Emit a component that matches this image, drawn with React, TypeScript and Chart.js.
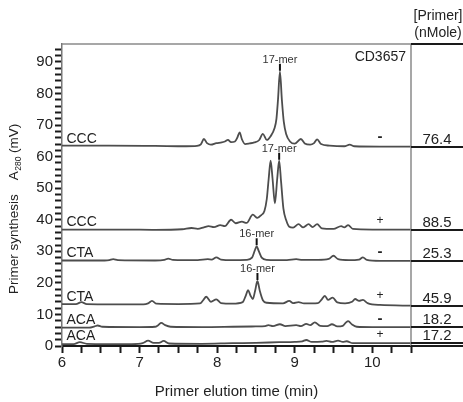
import React, { useEffect, useRef } from 'react';
import { Chart, registerables } from 'chart.js';

Chart.register(...registerables);

const FONT = '"Liberation Sans", Arial, Helvetica, sans-serif';

// ---- data ----
const traceLabels = ['CCC', 'CCC', 'CTA', 'CTA', 'ACA', 'ACA'];
const conditionMarks = ['-', '+', '-', '+', '-', '+'];
const primerAmounts = ['76.4', '88.5', '25.3', '45.9', '18.2', '17.2'];
const baselineLevels = [63.3, 36.9, 27.0, 13.1, 5.9, 0.8];
const panelLineLevels = [95.7, 63.2, 36.9, 27.0, 12.8, 6.1, 1.0, 0];
const panelHeader = ['[Primer]', '(nMole)'];
const sampleName = 'CD3657';
const markTime = 10.1;

const peakNames = ['17-mer', '17-mer', '16-mer', '16-mer'];
const peakTimes = [8.81, 8.8, 8.51, 8.52];
const peakHeights = [86.9, 58.7, 31.6, 20.6];

const xMin = 6;
const xMax = 10.5;
const yMin = 0;
const yMax = 95.7;

const cccMinus: [number, number][] = [
  [6.0, 63.5], [6.6, 63.5], [7.2, 63.4], [7.6, 63.3], [7.74, 63.4], [7.79, 63.9], [7.83, 65.6],
  [7.87, 64.3], [7.92, 63.8], [7.99, 64.3], [8.06, 64.5], [8.1, 64.8], [8.14, 65.3], [8.18, 64.6],
  [8.23, 64.8], [8.26, 66.0], [8.29, 67.7], [8.32, 65.5], [8.36, 64.0], [8.42, 64.2], [8.48, 64.5],
  [8.54, 65.2], [8.59, 67.2], [8.64, 65.3], [8.69, 66.5], [8.74, 69.0], [8.765, 72.0], [8.785, 78.0],
  [8.81, 86.9], [8.835, 78.0], [8.86, 71.0], [8.89, 67.2], [8.94, 64.8], [9.0, 64.1], [9.08, 65.6],
  [9.13, 64.2], [9.2, 63.8], [9.25, 64.3], [9.29, 65.5], [9.34, 64.0], [9.45, 63.5], [9.64, 63.3],
  [9.71, 63.8], [9.77, 63.3], [10.1, 63.2], [10.5, 63.2],
];

const cccPlus: [number, number][] = [
  [6.0, 36.9], [6.8, 36.9], [7.2, 36.8], [7.55, 37.0], [7.67, 37.4], [7.75, 37.1], [7.83, 37.6],
  [7.89, 38.0], [7.96, 37.7], [8.04, 38.3], [8.1, 38.0], [8.18, 40.0], [8.24, 38.9], [8.32, 39.4],
  [8.38, 39.0], [8.46, 41.6], [8.52, 40.6], [8.57, 41.5], [8.61, 42.8], [8.64, 46.5], [8.665, 53.0],
  [8.69, 58.7], [8.715, 53.0], [8.745, 45.2], [8.775, 53.0], [8.8, 58.7], [8.825, 52.0],
  [8.855, 43.5], [8.89, 39.9], [8.93, 37.8], [8.98, 37.5], [9.05, 38.6], [9.11, 37.6], [9.18, 38.6],
  [9.23, 37.7], [9.29, 38.6], [9.35, 37.3], [9.5, 37.1], [9.6, 38.0], [9.64, 37.6], [9.69, 38.3],
  [9.75, 37.1], [10.0, 36.9], [10.5, 36.9],
];

const ctaMinus: [number, number][] = [
  [6.0, 27.1], [6.55, 27.1], [6.61, 27.2], [6.66, 27.5], [6.72, 27.2], [7.2, 27.1], [7.32, 27.3],
  [7.37, 27.7], [7.43, 27.3], [7.75, 27.2], [7.88, 27.5], [7.93, 27.4], [7.99, 28.1], [8.05, 27.4],
  [8.2, 27.2], [8.38, 27.3], [8.45, 28.0], [8.485, 30.2], [8.51, 31.6], [8.535, 30.2], [8.575, 28.0],
  [8.64, 27.3], [8.9, 27.2], [9.02, 27.5], [9.1, 27.3], [9.3, 27.3], [9.44, 27.6], [9.5, 28.6],
  [9.56, 27.5], [9.7, 27.2], [9.83, 27.4], [9.88, 28.1], [9.93, 27.3], [10.1, 27.0], [10.5, 27.0],
];

const ctaPlus: [number, number][] = [
  [6.0, 13.3], [6.18, 13.3], [6.25, 13.9], [6.32, 13.3], [7.05, 13.2], [7.11, 13.5], [7.16, 14.3],
  [7.22, 13.4], [7.5, 13.3], [7.78, 13.5], [7.82, 14.5], [7.86, 15.6], [7.92, 14.0], [7.99, 14.8],
  [8.05, 13.6], [8.2, 13.4], [8.33, 13.9], [8.37, 16.0], [8.4, 17.7], [8.43, 16.0], [8.46, 14.9],
  [8.49, 17.5], [8.52, 20.6], [8.55, 17.5], [8.59, 14.5], [8.64, 13.7], [8.85, 13.5], [8.93, 14.3],
  [8.98, 13.6], [9.05, 13.9], [9.12, 13.5], [9.3, 13.6], [9.35, 14.8], [9.39, 15.9], [9.43, 14.6],
  [9.49, 15.3], [9.55, 13.8], [9.65, 13.5], [9.74, 14.0], [9.78, 14.9], [9.83, 14.3], [9.88, 14.6],
  [9.94, 13.6], [10.1, 13.0], [10.5, 12.8],
];

const acaMinus: [number, number][] = [
  [6.0, 5.8], [6.35, 5.8], [6.42, 6.2], [6.46, 6.5], [6.52, 6.1], [7.0, 6.0], [7.2, 6.1],
  [7.24, 6.6], [7.28, 7.3], [7.33, 6.6], [7.4, 6.1], [7.8, 6.0], [8.2, 6.1], [8.5, 6.2],
  [8.62, 6.3], [8.66, 6.6], [8.72, 6.3], [8.81, 6.9], [8.88, 6.3], [9.02, 6.6], [9.08, 6.3],
  [9.15, 7.0], [9.2, 6.6], [9.26, 7.5], [9.33, 6.4], [9.42, 6.3], [9.48, 6.9], [9.55, 6.2],
  [9.62, 6.4], [9.66, 7.4], [9.69, 7.9], [9.74, 6.8], [9.8, 6.1], [10.0, 6.0], [10.5, 6.0],
];

const acaPlus: [number, number][] = [
  [6.0, 0.6], [6.15, 0.6], [6.23, 1.2], [6.32, 0.7], [6.9, 0.6], [7.04, 0.9], [7.11, 1.7],
  [7.18, 1.0], [7.25, 1.0], [7.31, 1.6], [7.38, 0.8], [7.8, 0.7], [8.2, 0.9], [8.5, 1.0],
  [8.8, 1.2], [9.0, 1.3], [9.1, 1.5], [9.15, 1.9], [9.22, 1.3], [9.35, 1.4], [9.41, 1.6],
  [9.48, 1.3], [9.56, 1.7], [9.62, 1.3], [9.67, 1.5], [9.75, 0.9], [10.0, 0.9], [10.5, 0.9],
];

const traces = [cccMinus, cccPlus, ctaMinus, ctaPlus, acaMinus, acaPlus];

// ---- drawing helpers ----
const annotationPlugin = {
  id: 'annotations',
  afterDatasetsDraw(chart: any) {
    const { ctx, chartArea, scales } = chart;
    const xs = scales.x;
    const ys = scales.y;
    const W = chart.width;
    ctx.save();

    // plot frame: top and right
    ctx.strokeStyle = '#8a8a8a';
    ctx.lineWidth = 1.5;
    ctx.beginPath();
    ctx.moveTo(chartArea.left, chartArea.top);
    ctx.lineTo(chartArea.right, chartArea.top);
    ctx.moveTo(chartArea.right, chartArea.top);
    ctx.lineTo(chartArea.right, chartArea.bottom);
    ctx.stroke();

    // right panel lines
    ctx.strokeStyle = '#1a1a1a';
    ctx.lineWidth = 2;
    panelLineLevels.forEach((lv) => {
      const py = Math.round(ys.getPixelForValue(lv)) + 0.0;
      ctx.beginPath();
      ctx.moveTo(chartArea.right, py);
      ctx.lineTo(W, py);
      ctx.stroke();
    });

    const panelX = (chartArea.right + W) / 2;
    ctx.fillStyle = '#222';
    ctx.textAlign = 'center';
    ctx.textBaseline = 'middle';
    ctx.font = `14px ${FONT}`;
    ctx.fillText(panelHeader[0], panelX + 1, 16);
    ctx.fillText(panelHeader[1], panelX + 1, 33);

    // primer amounts
    ctx.font = `15px ${FONT}`;
    ctx.textBaseline = 'alphabetic';
    primerAmounts.forEach((v, i) => {
      const py = ys.getPixelForValue(panelLineLevels[i + 1]);
      ctx.fillText(v, panelX, py - 3);
    });

    // trace labels
    ctx.textAlign = 'left';
    ctx.font = `14px ${FONT}`;
    traceLabels.forEach((t, i) => {
      const py = ys.getPixelForValue(baselineLevels[i]);
      ctx.fillText(t, chartArea.left + 4.5, py - 3.5);
    });

    // condition marks
    ctx.textAlign = 'center';
    ctx.textBaseline = 'middle';
    conditionMarks.forEach((m, i) => {
      const py = ys.getPixelForValue(baselineLevels[i]) - 9;
      const px = xs.getPixelForValue(markTime);
      ctx.font = m === '-' ? `bold 15px ${FONT}` : `12px ${FONT}`;
      ctx.fillText(m, px, py);
    });

    // sample name
    ctx.textAlign = 'right';
    ctx.font = `14px ${FONT}`;
    ctx.fillText(sampleName, chartArea.right - 5, 57);

    // peak labels
    peakNames.forEach((name, i) => {
      const px = xs.getPixelForValue(peakTimes[i]);
      const py = ys.getPixelForValue(peakHeights[i]);
      const tickBottom = py - 1;
      const tickTop = py - 8;
      ctx.strokeStyle = '#111';
      ctx.lineWidth = 2;
      ctx.beginPath();
      ctx.moveTo(px, tickBottom);
      ctx.lineTo(px, tickTop);
      ctx.stroke();
      ctx.font = `11px ${FONT}`;
      ctx.fillStyle = '#333';
      ctx.textAlign = 'center';
      ctx.textBaseline = 'alphabetic';
      ctx.fillText(name, px, tickTop - 1);
    });

    ctx.restore();
  },
  afterDraw(chart: any) {
    const { ctx } = chart;
    ctx.save();
    ctx.translate(18, 294);
    ctx.rotate(-Math.PI / 2);
    ctx.fillStyle = '#222';
    ctx.textAlign = 'left';
    ctx.textBaseline = 'alphabetic';
    ctx.font = `13.5px ${FONT}`;
    let x = 0;
    const main1 = 'Primer synthesis';
    ctx.fillText(main1, x, 0);
    x += ctx.measureText(main1).width + 14;
    ctx.fillText('A', x, 0);
    x += ctx.measureText('A').width + 0.5;
    ctx.font = `8.5px ${FONT}`;
    ctx.fillText('280', x, 3);
    x += ctx.measureText('280').width + 3.5;
    ctx.font = `13.5px ${FONT}`;
    ctx.fillText('(mV)', x, 0);
    ctx.restore();
  },
};

export default function App() {
  const canvasRef = useRef<HTMLCanvasElement | null>(null);

  useEffect(() => {
    document.body.style.margin = '0';
    const canvas = canvasRef.current;
    if (!canvas) return;
    Chart.defaults.font.family = FONT;
    Chart.defaults.color = '#222';

    const datasets = traces.map((tr, i) => ({
      label: `${traceLabels[i]} ${conditionMarks[i]}`,
      data: tr.map(([x, y]) => ({ x, y })),
      borderColor: '#4d4d4d',
      borderWidth: 1.8,
      pointRadius: 0,
      fill: false,
      cubicInterpolationMode: 'monotone' as const,
    }));

    const chart = new Chart(canvas, {
      type: 'line',
      data: { datasets },
      options: {
        animation: false,
        responsive: false,
        maintainAspectRatio: false,
        layout: { padding: { top: 44, right: 52, left: 0, bottom: 0 } },
        plugins: {
          legend: { display: false },
          tooltip: { enabled: false },
          title: { display: false },
        },
        scales: {
          x: {
            type: 'linear',
            min: xMin,
            max: xMax,
            afterFit: (axis: any) => {
              axis.height = 56;
            },
            ticks: {
              stepSize: 0.25,
              autoSkip: false,
              maxRotation: 0,
              padding: 1,
              font: { size: 15, family: FONT },
              color: '#222',
              callback: (v: any) => (Number.isInteger(Number(v)) ? String(v) : ''),
            },
            grid: {
              drawOnChartArea: false,
              drawTicks: true,
              tickLength: 7,
              tickWidth: 2,
              tickColor: '#1a1a1a',
              color: '#1a1a1a',
            },
            border: { display: true, color: '#1a1a1a', width: 2 },
            title: {
              display: true,
              text: 'Primer elution time (min)',
              font: { size: 15, family: FONT },
              color: '#222',
              padding: { top: 0, bottom: 1 },
            },
          },
          y: {
            type: 'linear',
            min: yMin,
            max: yMax,
            afterFit: (axis: any) => {
              axis.width = 62;
            },
            ticks: {
              stepSize: 2,
              autoSkip: false,
              includeBounds: false,
              padding: 2,
              font: { size: 15, family: FONT },
              color: '#222',
              callback: (v: any) => (Number(v) % 10 === 0 ? String(v) : ''),
            },
            grid: {
              drawOnChartArea: false,
              drawTicks: true,
              tickLength: 7,
              tickWidth: 2,
              tickColor: '#1a1a1a',
              color: '#1a1a1a',
            },
            border: { display: true, color: '#777', width: 1.5 },
            title: { display: false },
          },
        },
      },
      plugins: [annotationPlugin],
    });

    return () => {
      chart.destroy();
    };
  }, []);

  return (
    <div style={{ width: 463, height: 402, background: '#fff' }}>
      <canvas ref={canvasRef} width={463} height={402} style={{ display: 'block' }} />
    </div>
  );
}
